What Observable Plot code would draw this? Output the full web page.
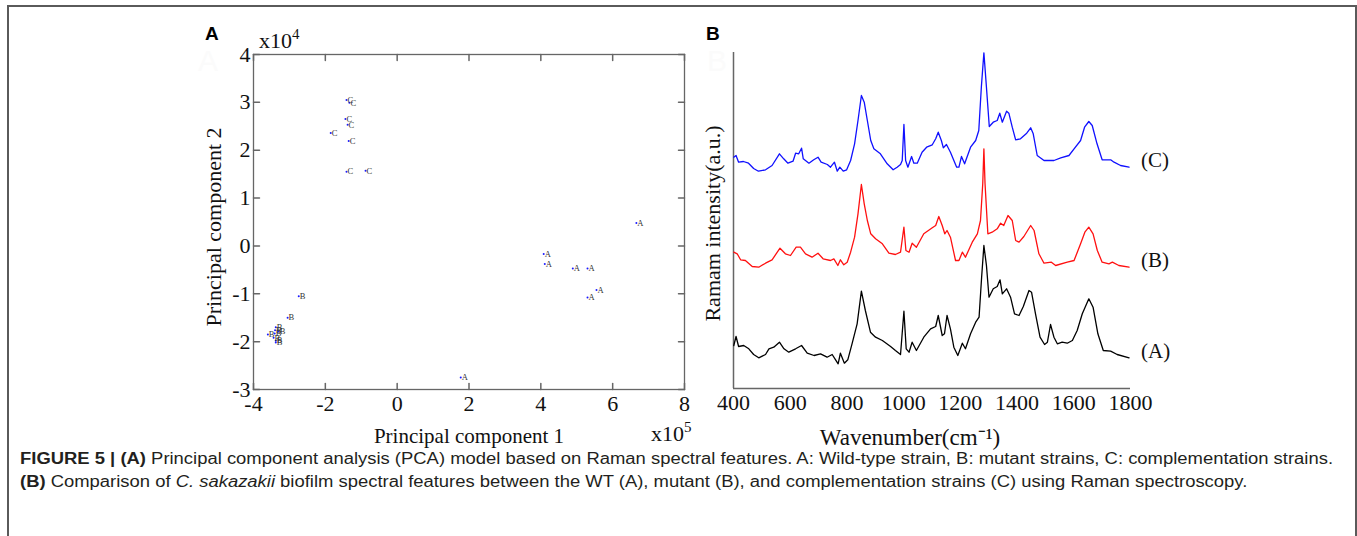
<!DOCTYPE html>
<html>
<head>
<meta charset="utf-8">
<script src="https://cdn.jsdelivr.net/npm/d3@7"></script>
<script src="https://cdn.jsdelivr.net/npm/@observablehq/plot@0.6"></script>
<style>
html,body{margin:0;padding:0;background:#fff;width:1357px;height:536px;overflow:hidden;}
#fig{position:relative;width:1357px;height:536px;}
#border{position:absolute;left:7px;top:5px;width:1350px;height:600px;border:2px solid #5a5a5a;border-bottom:none;box-sizing:border-box;}
.pl{position:absolute;left:0;top:0;}
.pl svg{overflow:visible;}
.lbl{position:absolute;font-family:"Liberation Sans",Arial,sans-serif;font-weight:bold;font-size:19px;color:#000;line-height:1;}
.wm{position:absolute;font-family:"Liberation Sans",Arial,sans-serif;font-size:30px;color:#fbfbfb;line-height:1;}
.mult{position:absolute;font-family:"Liberation Serif","Times New Roman",serif;font-size:22px;color:#111;line-height:1;white-space:nowrap;}
.mult sup{font-size:15px;vertical-align:0;position:relative;top:-9px;}
.cap{position:absolute;left:20px;font-family:"Liberation Sans",Arial,sans-serif;font-size:16px;color:#231f20;white-space:nowrap;transform-origin:0 0;line-height:1;}
.cap b{font-weight:bold;}
</style>
</head>
<body>
<div id="fig">
  <div id="border"></div>
  <div id="plotA" class="pl"></div>
  <div id="plotB" class="pl"></div>
  <div class="lbl" style="left:205px;top:24px;">A</div>
  <div class="lbl" style="left:706px;top:24px;">B</div>
  <div class="wm" style="left:198px;top:46px;">A</div>
  <div class="wm" style="left:707px;top:46px;">B</div>
  <div class="mult" style="left:259px;top:30px;">x10<sup>4</sup></div>
  <div class="mult" style="left:651px;top:423px;">x10<sup>5</sup></div>
  <div id="cap1" class="cap" style="top:451px;"><b>FIGURE 5 | (A)</b> Principal component analysis (PCA) model based on Raman spectral features. A: Wild-type strain, B: mutant strains, C: complementation strains.</div>
  <div id="cap2" class="cap" style="top:474px;"><b>(B)</b> Comparison of <i>C. sakazakii</i> biofilm spectral features between the WT (A), mutant (B), and complementation strains (C) using Raman spectroscopy.</div>
</div>
<script>
// ---------- Panel A: PCA scores (PC1 in x10^5, PC2 in x10^4) ----------
const pcaLabel = ["C","C","C","C","C","C","C","C",
                  "A","A","A","A","A","A","A","A",
                  "B","B","B","B","B","B","B","B","B","B"];
const pc1 = [-1.41,-1.33,-1.44,-1.38,-1.85,-1.35,-1.41,-0.88,
              6.66, 4.08, 4.11, 4.89, 5.30, 5.55, 5.30, 1.77,
             -2.74,-3.05,-3.60,-3.38,-3.30,-3.41,-3.44,-3.38,-3.38,-3.40];
const pc2 = [ 3.05, 2.99, 2.65, 2.53, 2.36, 2.19, 1.55, 1.57,
              0.48,-0.17,-0.38,-0.47,-0.47,-0.92,-1.08,-2.75,
             -1.05,-1.50,-1.85,-1.70,-1.79,-1.83,-1.92,-1.98,-2.02,-1.76];
const pc1Ticks = [-4,-2,0,2,4,6,8];
const pc2Ticks = [-3,-2,-1,0,1,2,3,4];

// ---------- Panel B: Raman spectra (stacked, a.u.) ----------
const wnC = [401,409,418,435,453,471,488,513,536,562,577,592,610,619,630,640,646,666,683,698,709,731,742,756,766,775,787,799,813,827,839,851,861,872,884,895,918,942,963,977,989,995,1001,1007,1015,1028,1036,1048,1065,1081,1101,1113,1122,1133,1140,1151,1165,1187,1195,1204,1215,1236,1254,1265,1274,1283,1292,1302,1316,1330,1339,1348,1363,1371,1383,1395,1412,1434,1448,1457,1471,1495,1530,1554,1583,1601,1624,1638,1653,1665,1682,1700,1730,1742,1765,1795];
const intC = [231.3,233,226.3,227,225.3,220,217.3,218.7,223,234.7,229.7,225.3,227.3,235.3,234.7,240.3,229.7,225.3,228.7,231.3,226.3,224,221.3,226.3,217.3,221.3,217.3,218.7,228,244.7,268,293,286.3,268,248,239.7,234.7,224.7,218.7,221.3,224,228,264,228,221.3,232,225.3,225.3,236.3,241.3,243.7,249.7,256.3,248,240.7,244,236.3,221.3,221.3,232,224.7,241.3,248,258,301.3,335.7,301.3,262,266.3,268,275.3,266.3,277.3,275.3,261.3,248.7,249.7,255.3,260.7,254.7,233,228,228,230.7,233,239.7,248,261.3,267,263,244.7,228.7,228.7,226.3,223,221.3];

const wnB = [401,413,425,442,466,489,513,536,564,583,601,621,636,654,677,698,716,742,754,768,777,789,801,813,827,839,851,861,872,884,901,925,948,971,989,1001,1008,1019,1030,1045,1071,1101,1113,1124,1136,1145,1153,1165,1183,1195,1207,1218,1242,1260,1271,1279,1283,1287,1297,1312,1330,1342,1353,1368,1383,1395,1407,1424,1448,1460,1477,1495,1521,1536,1577,1601,1624,1639,1653,1668,1683,1700,1724,1736,1759,1795];
const intB = [136.3,134.7,128.7,128,122,121.3,125.3,128.7,140.3,134.7,133,141.3,141.3,134.7,131.3,135.3,129.7,128,129.7,123,128.7,123.7,126.3,136.3,151.3,174.7,204,184.7,168,154.7,149.7,144.7,135.3,134,136.3,161.3,138,136.3,145.3,141.3,154.7,160.7,163,172,163,154.7,158,151.3,128,128,136.3,131.3,146.3,154.7,168,205,239.7,205,154.7,156.3,159.7,165.3,163,173,168,148,146.3,152,163,158,134.7,125.3,126.3,123,126.3,128,144.7,156.3,161.3,154.7,138,126.3,124.7,126.3,123,121.3];

const wnA = [401,409,418,436,454,471,489,513,525,542,562,578,595,619,640,660,684,707,730,748,760,769,777,791,803,818,836,851,865,883,901,925,954,971,989,1001,1009,1019,1030,1045,1071,1095,1113,1122,1136,1144,1153,1165,1177,1191,1207,1218,1236,1254,1266,1275,1283,1292,1301,1316,1330,1340,1348,1363,1377,1391,1407,1422,1442,1451,1465,1481,1497,1507,1518,1530,1542,1559,1577,1595,1612,1630,1653,1668,1685,1704,1730,1753,1795];
const intA = [43,52,42,43,39.7,34,30.7,34,39.7,41.3,46.3,39.7,36.3,39.7,43,35.3,33,34.7,31.3,34,28.7,24.7,35.3,25.3,28.7,44.7,64.7,97.3,78,56.3,51.3,48,42,38,34,77.3,39.7,36.3,46.3,38,51.3,59.7,62,73,53,54.7,73,59.7,41.3,33,45.3,39.7,54.7,66.3,71.3,111.3,143,123,91.3,99.7,102,108.7,94.7,99.7,91.3,74.7,73,82,98,96.3,74.7,51.3,44,46.3,64,51.3,44.7,46.3,45.3,48,58,74.7,89.7,81.3,54.7,38,37.3,34,30.7];

const seriesNames = ["(C)","(B)","(A)"];
const seriesColors = ["#1010ff","#ff1010","#000000"];
const wnTicks = [400,600,800,1000,1200,1400,1600,1800];

// ---------- build tables ----------
const pca = pc1.map((x,i)=>({x, y: pc2[i], g: pcaLabel[i]}));
const spectra = [];
[[wnC,intC],[wnB,intB],[wnA,intA]].forEach(([w,v],k)=>{
  w.forEach((x,i)=>spectra.push({x, y: v[i], s: seriesNames[k]}));
});
const ends = seriesNames.map((s,k)=>{
  const w=[wnC,wnB,wnA][k], v=[intC,intB,intA][k];
  return {x: w[w.length-1], y: v[v.length-1], s};
});

const serif = '"Liberation Serif","Times New Roman",serif';
const axisCol = "#666";
const W = 1357, H = 460;
const tickShape = {draw(ctx,l){ctx.moveTo(0,0);ctx.lineTo(0,-l);}};

const plotA = Plot.plot({
  width: W, height: H,
  marginLeft: 253, marginRight: W-684, marginTop: 54, marginBottom: H-389,
  style: {fontFamily: serif, fontSize: "21px", color: "#111", background: "transparent", overflow: "visible"},
  x: {domain: [-4, 8]},
  y: {domain: [-3, 4]},
  marks: [
    Plot.frame({stroke: axisCol, strokeWidth: 1.3}),
    Plot.vector(pc1Ticks, {x: d=>d, frameAnchor: "bottom", length: 6, rotate: 0, anchor: "start", shape: tickShape, stroke: axisCol}),
    Plot.vector(pc1Ticks, {x: d=>d, frameAnchor: "top", length: 6, rotate: 180, anchor: "start", shape: tickShape, stroke: axisCol}),
    Plot.vector(pc2Ticks, {y: d=>d, frameAnchor: "left", length: 6, rotate: 90, anchor: "start", shape: tickShape, stroke: axisCol}),
    Plot.vector(pc2Ticks, {y: d=>d, frameAnchor: "right", length: 6, rotate: -90, anchor: "start", shape: tickShape, stroke: axisCol}),
    Plot.axisX({ticks: pc1Ticks, tickFormat: d=>String(d), tickSize: 0, tickPadding: 6, fontSize: 22, label: null}),
    Plot.axisY({ticks: pc2Ticks, tickFormat: d=>String(d), tickSize: 0, tickPadding: 3, fontSize: 22, label: null}),
    Plot.dot(pca, {x: "x", y: "y", r: 1, fill: "#1a1aff", stroke: "none"}),
    Plot.text(pca, {x: "x", y: "y", text: "g", dx: 1, textAnchor: "start", fontSize: 8.5, fill: "#333", fontFamily: serif}),
    Plot.text(["Principal component 1"], {frameAnchor: "bottom", textAnchor: "middle", lineAnchor: "middle", dy: 47, fontSize: 21, fill: "#111"}),
    Plot.text(["Principal component 2"], {frameAnchor: "left", textAnchor: "middle", lineAnchor: "middle", dx: -40, dy: 5, rotate: -90, fontSize: 22, fill: "#111"})
  ]
});
document.getElementById("plotA").appendChild(plotA);

const plotB = Plot.plot({
  width: W, height: H,
  marginLeft: 733, marginRight: W-1130, marginTop: 52, marginBottom: H-388,
  style: {fontFamily: serif, fontSize: "21px", color: "#111", background: "transparent", overflow: "visible"},
  x: {domain: [400, 1800]},
  y: {domain: [0, 336]},
  color: {domain: seriesNames, range: seriesColors},
  marks: [
    Plot.axisX({ticks: wnTicks, tickFormat: d=>String(d), tickSize: 0, tickPadding: 6, fontSize: 22, label: null}),
    Plot.axisY({ticks: [], label: null}),
    Plot.ruleX([400], {stroke: axisCol, strokeWidth: 1.5}),
    Plot.ruleY([0], {stroke: axisCol, strokeWidth: 1.5}),
    Plot.line(spectra, {x: "x", y: "y", z: "s", stroke: "s", strokeWidth: 1.3}),
    Plot.text(ends, {x: "x", y: "y", text: "s", dx: 12, dy: -7, textAnchor: "start", fontSize: 21, fill: "#111"}),
    Plot.text(["Wavenumber(cm\u207B\u00B9)"], {frameAnchor: "bottom", textAnchor: "middle", lineAnchor: "middle", dx: -22, dy: 49, fontSize: 23, fill: "#111"}),
    Plot.text(["Ramam intensity(a.u.)"], {frameAnchor: "left", textAnchor: "middle", lineAnchor: "middle", dx: -21, dy: 3, rotate: -90, fontSize: 22, fill: "#111"})
  ]
});
document.getElementById("plotB").appendChild(plotB);

// fit caption lines to the reference width
const c1 = document.getElementById("cap1"), c2 = document.getElementById("cap2");
const s = 1313 / c1.getBoundingClientRect().width;
c1.style.transform = `scaleX(${s})`;
c2.style.transform = `scaleX(${s})`;
</script>
</body>
</html>
